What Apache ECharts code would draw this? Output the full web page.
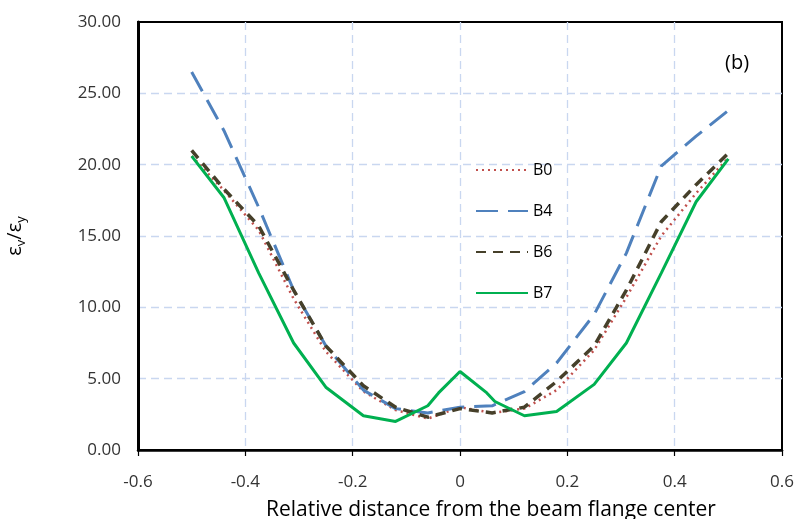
<!DOCTYPE html>
<html>
<head>
<meta charset="utf-8">
<script src="https://cdn.jsdelivr.net/npm/echarts@6/dist/echarts.min.js"></script>
<style>
  html, body { margin: 0; padding: 0; background: #fff; }
  #chart { width: 799px; height: 519px; }
</style>
</head>
<body>
<div id="chart"></div>
<script>
// relative positions along the flange
const xPos = [-0.5, -0.44, -0.375, -0.31, -0.25, -0.18, -0.12, -0.06, 0, 0.06, 0.12, 0.18, 0.25, 0.31, 0.375, 0.44, 0.5]
const b0 = [20.6, 18.2, 15.4, 10.6, 6.9, 4.1, 2.8, 2.2, 3.0, 2.6, 2.9, 4.2, 7.0, 10.7, 15.0, 18.0, 20.5]
const b4 = [26.5, 22.4, 17.0, 11.2, 7.3, 4.2, 2.9, 2.6, 3.0, 3.1, 4.1, 6.1, 9.5, 13.8, 19.9, 22.0, 23.8]
const b6 = [21.0, 18.3, 15.7, 11.2, 7.3, 4.5, 3.0, 2.3, 2.9, 2.6, 3.0, 4.8, 7.3, 11.2, 16.0, 18.6, 20.8]
// B7 was measured at a couple of extra points near the center
const xPosB7 = [-0.5, -0.44, -0.375, -0.31, -0.25, -0.18, -0.12, -0.06, -0.04, 0, 0.05, 0.065, 0.12, 0.18, 0.25, 0.31, 0.375, 0.44, 0.5]
const b7 = [20.6, 17.7, 12.4, 7.5, 4.4, 2.4, 2.0, 3.1, 4.0, 5.5, 4.0, 3.4, 2.4, 2.7, 4.6, 7.5, 12.4, 17.4, 20.4]

const seriesNames = ['B0', 'B4', 'B6', 'B7']
const xTicks = { min: -0.6, max: 0.6, step: 0.2 }
const yTicks = { min: 0, max: 30, step: 5 }

const pairs = (xs, ys) => xs.map((x, i) => [x, ys[i]])

const font = '"Open Sans", sans-serif'
const gridLine = {
  show: true,
  showMinLine: false,
  showMaxLine: false,
  lineStyle: { color: '#c9d7f0', type: [8, 5], width: 1.3 }
}

const chart = echarts.init(document.getElementById('chart'))
chart.setOption({
  animation: false,
  textStyle: { fontFamily: font },
  grid: {
    left: 138, right: 17, top: 22, bottom: 69,
    outerBoundsMode: 'none',
    show: true, borderColor: '#000', borderWidth: 2
  },
  legend: {
    data: seriesNames,
    orient: 'vertical',
    left: 470,
    top: 157,
    itemWidth: 52,
    itemHeight: 14,
    itemGap: 25,
    itemStyle: { opacity: 0 },
    textStyle: { fontSize: 16, color: '#000', fontFamily: font }
  },
  graphic: [{
    type: 'text',
    left: 725,
    top: 53,
    style: { text: '(b)', fontSize: 20, fill: '#000', fontFamily: font }
  }],
  xAxis: {
    type: 'value',
    min: xTicks.min,
    max: xTicks.max,
    interval: xTicks.step,
    name: 'Relative distance from the beam flange center',
    nameLocation: 'middle',
    nameGap: 50,
    nameTextStyle: { fontSize: 21, color: '#000', fontFamily: font, padding: [0, 0, 0, 62] },
    axisLine: { onZero: false, lineStyle: { color: '#000', width: 2.5 } },
    axisTick: { show: true, length: 6, lineStyle: { color: '#000', width: 1.2 } },
    axisLabel: {
      margin: 24, fontSize: 17, color: '#333', fontFamily: font,
      formatter: v => String(Math.round(v * 10) / 10)
    },
    splitLine: gridLine
  },
  yAxis: {
    type: 'value',
    min: yTicks.min,
    max: yTicks.max,
    interval: yTicks.step,
    name: '{e|ε}{s|v}{e|/ε}{s|y}',
    nameLocation: 'middle',
    nameRotate: 90,
    nameGap: 110,
    nameTextStyle: {
      rich: {
        e: { fontSize: 20, color: '#000', fontFamily: font, lineHeight: 26 },
        s: { fontSize: 13, color: '#000', fontFamily: font, lineHeight: 26, verticalAlign: 'bottom', padding: [9, 0, 0, 0] }
      }
    },
    axisLine: { show: true, onZero: false, lineStyle: { color: '#000', width: 3 } },
    axisTick: { show: false },
    axisLabel: {
      margin: 17, fontSize: 17, color: '#333', fontFamily: font,
      formatter: v => v.toFixed(2)
    },
    splitLine: gridLine
  },
  series: [
    {
      name: 'B0', type: 'line', showSymbol: false, symbol: 'none',
      data: pairs(xPos, b0),
      lineStyle: { color: '#c0504d', width: 2.5, type: [2, 4] },
      itemStyle: { color: '#c0504d' }
    },
    {
      name: 'B4', type: 'line', showSymbol: false, symbol: 'none',
      data: pairs(xPos, b4),
      lineStyle: { color: '#4f81bd', width: 3, type: [22, 10] },
      itemStyle: { color: '#4f81bd' }
    },
    {
      name: 'B6', type: 'line', showSymbol: false, symbol: 'none',
      data: pairs(xPos, b6),
      lineStyle: { color: '#46402a', width: 3.5, type: [10, 7] },
      itemStyle: { color: '#46402a' }
    },
    {
      name: 'B7', type: 'line', showSymbol: false, symbol: 'none',
      data: pairs(xPosB7, b7),
      lineStyle: { color: '#00b050', width: 3 },
      itemStyle: { color: '#00b050' }
    }
  ]
})
</script>
</body>
</html>
